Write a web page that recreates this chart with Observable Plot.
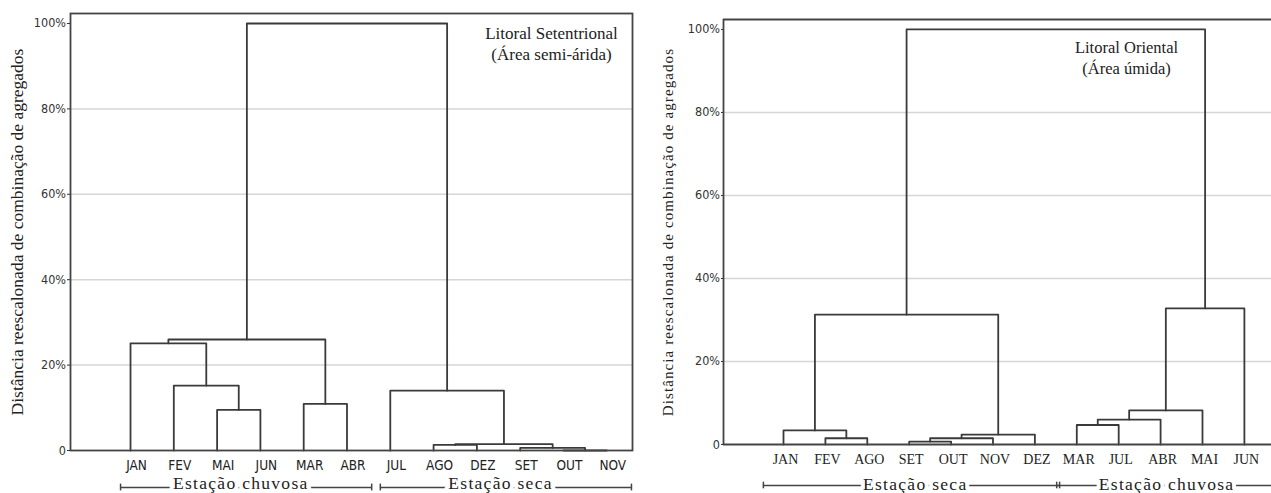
<!DOCTYPE html>
<html><head><meta charset="utf-8">
<script src="https://cdn.jsdelivr.net/npm/d3@7"></script>
<script src="https://cdn.jsdelivr.net/npm/@observablehq/plot@0.6"></script>
<style>
html,body{margin:0;padding:0;background:#fff;overflow:hidden;width:1271px;height:493px;}
#left{position:absolute;left:0;top:0;width:640px;height:493px;}
#right{position:absolute;left:640px;top:0;width:631px;height:493px;overflow:hidden;}
svg{display:block}
</style></head><body>
<div id="left"></div><div id="right"></div>
<script>
// ---------- data ----------
const yTicks = [0, 20, 40, 60, 80, 100];
const gridLevels = [20, 40, 60, 80];
const yLabel = "Distância reescalonada de combinação de agregados";

// Left: Litoral Setentrional
const leavesL = ["JAN","FEV","MAI","JUN","MAR","ABR","JUL","AGO","DEZ","SET","OUT","NOV"];
const mergeLeftL   = ["MAI","FEV","JAN","MAR","#2","OUT","SET","AGO","#7","JUL","#4"];
const mergeRightL  = ["JUN","#0","#1","ABR","#3","NOV","#5","DEZ","#6","#8","#9"];
const mergeHeightL = [9.5, 15.2, 25.1, 10.9, 26.0, 0, 0.6, 1.3, 1.5, 14.0, 100];
const titleL = ["Litoral Setentrional", "(Área semi-árida)"];
const seasonNameL  = ["Estação chuvosa", "Estação seca"];
const seasonFirstL = ["JAN", "JUL"];
const seasonLastL  = ["ABR", "NOV"];

// Right: Litoral Oriental
const leavesR = ["JAN","FEV","AGO","SET","OUT","NOV","DEZ","MAR","JUL","ABR","MAI","JUN"];
const mergeLeftR   = ["FEV","JAN","SET","#2","#3","#1","MAR","#6","#7","#8","#5"];
const mergeRightR  = ["AGO","#0","OUT","NOV","DEZ","#4","JUL","ABR","MAI","JUN","#9"];
const mergeHeightR = [1.5, 3.4, 0.7, 1.5, 2.4, 31.3, 4.7, 6.0, 8.2, 32.8, 100];
const titleR = ["Litoral Oriental", "(Área úmida)"];
const seasonNameR  = ["Estação seca", "Estação chuvosa"];
const seasonFirstR = ["JAN", "MAR"];
const seasonLastR  = ["DEZ", "JUN"];

// ---------- helpers ----------
const SERIF = "'Liberation Serif','Times New Roman',serif";
const NARROW = "'Liberation Sans Narrow','Arial Narrow','DejaVu Sans Condensed','Liberation Sans',sans-serif";
const INK = "#333";

function dendro(leaves, lefts, rights, heights) {
  const pos = new Map(leaves.map((d, i) => [d, {x: i, y: 0}]));
  const pts = [];
  lefts.forEach((l, k) => {
    const a = pos.get(l), b = pos.get(rights[k]), h = heights[k];
    pts.push({id: k, x: a.x, y: a.y}, {id: k, x: a.x, y: h}, {id: k, x: b.x, y: h}, {id: k, x: b.x, y: b.y});
    pos.set("#" + k, {x: (a.x + b.x) / 2, y: h});
  });
  return pts;
}

function makeChart(cfg) {
  const idx = name => cfg.leaves.indexOf(name);
  const seasons = cfg.seasonName.map((name, i) => {
    const f = idx(cfg.seasonFirst[i]), l = idx(cfg.seasonLast[i]);
    const last = i === cfg.seasonName.length - 1;
    return {
      name,
      x1: f - cfg.padStart,
      x2: (last && cfg.openEnd) ? cfg.xDomain[1] + 2 : l + cfg.padEnd,
      xm: (f + l) / 2,
      capEnd: !(last && cfg.openEnd)
    };
  });
  const caps = [];
  seasons.forEach(s => { caps.push(s.x1); if (s.capEnd) caps.push(s.x2); });

  const marks = [
    Plot.ruleY(gridLevels, {stroke: "#d6d6d6", strokeWidth: 1.5}),
    Plot.line(dendro(cfg.leaves, cfg.mergeLeft, cfg.mergeRight, cfg.mergeHeight),
      {x: "x", y: "y", z: "id", stroke: "#3a3a3a", strokeWidth: 1.8}),
  ];
  if (cfg.fullFrame) {
    marks.push(Plot.frame({stroke: "#444", strokeWidth: 1.8}));
  } else {
    marks.push(Plot.ruleY([cfg.yDomain[1]], {stroke: "#444", strokeWidth: 1.8}));
    marks.push(Plot.ruleY([0], {stroke: "#444", strokeWidth: 1.8}));
    marks.push(Plot.ruleX([cfg.xDomain[0]], {stroke: "#444", strokeWidth: 1.8}));
  }
  marks.push(
    Plot.text(cfg.leaves, {x: (d, i) => i, text: d => d, frameAnchor: "bottom", lineAnchor: "middle",
      textAnchor: "middle", dy: cfg.leafDy, dx: cfg.leafDx, fontFamily: cfg.leafFont,
      fontSize: cfg.leafSize, fill: "#222"}),
    Plot.ruleY(seasons, {x1: "x1", x2: "x2", y: () => 0, dy: cfg.bracketDy, stroke: "#444", strokeWidth: 1.3}),
    Plot.ruleX(caps, {x: d => d, y1: -0.8, y2: 0.8, dy: cfg.bracketDy, stroke: "#444", strokeWidth: 1.5}),
    Plot.text(seasons, {x: d => d.xm, text: "name", frameAnchor: "bottom", lineAnchor: "middle",
      textAnchor: "middle", dy: cfg.seasonTextDy, dx: cfg.seasonDx, fontFamily: SERIF, fontSize: 17.5,
      fill: "#222", stroke: "white", strokeWidth: 8}),
    Plot.text([yLabel], {frameAnchor: "left", textAnchor: "middle", lineAnchor: "middle", rotate: -90,
      dx: cfg.yLabelDx, fontFamily: SERIF, fontSize: cfg.yLabelSize, fill: "#222"}),
    Plot.text([cfg.title.join("\n")], {frameAnchor: "top-right", textAnchor: "middle", lineAnchor: "middle",
      dx: cfg.titleDx, dy: cfg.titleDy, lineHeight: cfg.titleLH, fontFamily: SERIF, fontSize: cfg.titleSize,
      fill: "#222"})
  );

  const svg = Plot.plot({
    width: cfg.width, height: 493,
    marginLeft: cfg.ml, marginRight: cfg.mr, marginTop: cfg.mt, marginBottom: cfg.mb,
    x: {domain: cfg.xDomain, axis: null},
    y: {domain: cfg.yDomain, ticks: yTicks, tickFormat: d => d === 0 ? "0" : d + "%",
        tickSize: cfg.tickSize, tickPadding: 1.5, label: null},
    style: {fontFamily: NARROW, fontSize: "12.5px", color: INK, background: "white"},
    marks
  });
  const sel = d3.select(svg).selectAll("text");
  sel.filter(function() { return cfg.seasonName.includes(this.textContent); })
     .style("letter-spacing", "1.3px");
  sel.filter(function() { return this.textContent === yLabel; })
     .style("letter-spacing", cfg.yLabelSpacing);
  return svg;
}

document.getElementById("left").appendChild(makeChart({
  leaves: leavesL, mergeLeft: mergeLeftL, mergeRight: mergeRightL, mergeHeight: mergeHeightL,
  title: titleL, seasonName: seasonNameL, seasonFirst: seasonFirstL, seasonLast: seasonLastL,
  width: 640, ml: 70, mr: 8, mt: 13, mb: 43,
  xDomain: [-1.386, 11.594], yDomain: [0, 102.34],
  fullFrame: true, openEnd: false, padStart: 0.23, padEnd: 0.57,
  leafDy: 15, leafDx: 6, leafFont: NARROW, leafSize: 13.5,
  bracketDy: 37, seasonTextDy: 33, seasonDx: 2,
  yLabelDx: -53, yLabelSize: 17.5, yLabelSpacing: "0px",
  titleDx: -81, titleDy: 29, titleLH: 1.235, titleSize: 17,
  tickSize: 3
}));

document.getElementById("right").appendChild(makeChart({
  leaves: leavesR, mergeLeft: mergeLeftR, mergeRight: mergeRightR, mergeHeight: mergeHeightR,
  title: titleR, seasonName: seasonNameR, seasonFirst: seasonFirstR, seasonLast: seasonLastR,
  width: 631, ml: 83, mr: 0, mt: 19, mb: 49,
  xDomain: [-1.432, 11.647], yDomain: [0, 102.4],
  fullFrame: false, openEnd: true, padStart: 0.48, padEnd: 0.59,
  leafDy: 15, leafDx: 2, leafFont: SERIF, leafSize: 14,
  bracketDy: 41, seasonTextDy: 39.5, seasonDx: 6,
  yLabelDx: -55, yLabelSize: 15, yLabelSpacing: "1.1px",
  titleDx: -145, titleDy: 37, titleLH: 1.33, titleSize: 16.5,
  tickSize: 2
}));
</script>
</body></html>
